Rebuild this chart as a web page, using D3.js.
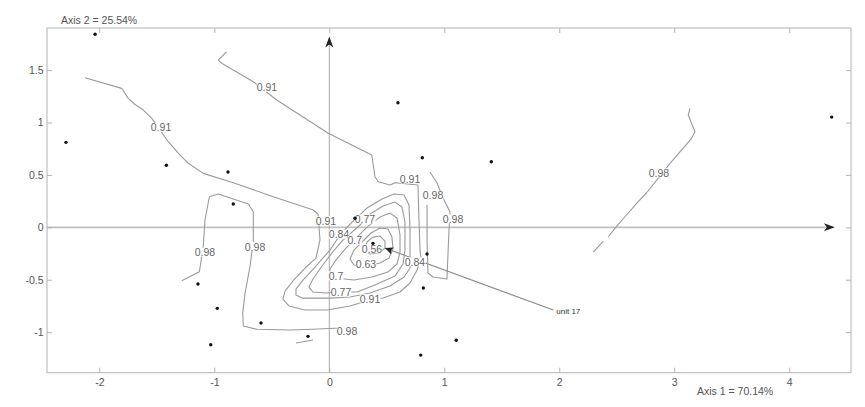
<!DOCTYPE html>
<html><head><meta charset="utf-8">
<script src="https://cdn.jsdelivr.net/npm/d3@7"></script>
<style>
body{margin:0;background:#fff}
text{font-family:"Liberation Sans",Arial,Helvetica,sans-serif}
</style>
</head><body>
<svg id="chart" width="865" height="407"></svg>
<script>
// Axis setup
const xDomain = [-2.455, 4.537];
const yDomain = [-1.387, 1.902];
const xTicks = [-2, -1, 0, 1, 2, 3, 4];
const xTickLabels = ["-2", "-1", "0", "1", "2", "3", "4"];
const yTicks = [-1, -0.5, 0, 0.5, 1, 1.5];
const yTickLabels = ["-1", "-0.5", "0", "0.5", "1", "1.5"];
const axis1Label = "Axis 1 = 70.14%";
const axis2Label = "Axis 2 = 25.54%";
const axisArrowTip = [4.397, 1.821];

// Sampling units (ordination scores)
const unitsX = [-2.037, -2.29, -1.417, -0.881, -0.835, -1.142, -0.974, -1.031, -0.594, 0.597,
                0.809, 1.409, 4.369, 0.223, 0.38, 0.85, 0.818, 1.104, 0.795, -0.185];
const unitsY = [1.842, 0.811, 0.592, 0.528, 0.222, -0.541, -0.773, -1.12, -0.913, 1.189,
                0.664, 0.626, 1.052, 0.086, -0.153, -0.255, -0.579, -1.078, -1.219, -1.04];

// Highlighted unit
const unitName = "unit 17";
const unitArrowFrom = [1.948, -0.789];
const unitArrowTo = [0.484, -0.198];

// Isolines of the fitted surface
const level091 = [[-0.892,1.676],[-0.965,1.596],[-0.936,1.565],[-0.661,1.389],[-0.457,1.215],[-0.255,1.072],
  [-0.009,0.897],[0.369,0.690],[0.397,0.483],[0.426,0.435],[0.528,0.404],[0.571,0.426],[0.771,0.404],
  [0.780,0.070],[0.789,-0.217],[0.797,-0.293],[0.763,-0.407],[0.702,-0.531],[0.615,-0.617],[0.467,-0.675],
  [0.267,-0.722],[0.180,-0.751],[-0.020,-0.789],[-0.211,-0.789],[-0.350,-0.751],[-0.403,-0.684],
  [-0.385,-0.608],[-0.316,-0.512],[-0.211,-0.388],[-0.116,-0.293],[-0.081,-0.121],[-0.098,0.127],
  [-0.139,0.165],[-0.487,0.292],[-0.835,0.426],[-1.096,0.515],[-1.226,0.611],[-1.298,0.690],
  [-1.400,0.817],[-1.544,1.040],[-1.617,1.119],[-1.690,1.172],[-1.748,1.231],[-1.805,1.326],[-2.124,1.427]];
const level084 = [[0.702,-0.331],[0.702,-0.217],[0.702,-0.026],[0.693,0.213],[0.650,0.308],[0.563,0.318],
  [0.458,0.270],[0.328,0.184],[0.206,0.060],[0.093,-0.073],[0.006,-0.217],[-0.116,-0.369],[-0.229,-0.503],
  [-0.290,-0.589],[-0.290,-0.646],[-0.237,-0.675],[0.006,-0.675],[0.180,-0.665],[0.354,-0.627],
  [0.528,-0.560],[0.650,-0.474],[0.702,-0.388]];
const level077 = [[0.267,0.022],[0.354,0.127],[0.467,0.203],[0.571,0.241],[0.632,0.194],[0.658,0.051],
  [0.658,-0.217],[0.641,-0.350],[0.571,-0.465],[0.397,-0.551],[0.241,-0.617],[0.102,-0.617],[-0.037,-0.627],
  [-0.142,-0.617],[-0.177,-0.570],[-0.142,-0.493],[-0.063,-0.369],[0.023,-0.245],[0.110,-0.131],[0.197,-0.045]];
const level070 = [[0.250,-0.083],[0.337,0.012],[0.441,0.098],[0.528,0.136],[0.589,0.089],[0.615,-0.073],
  [0.615,-0.236],[0.589,-0.350],[0.510,-0.427],[0.371,-0.474],[0.215,-0.503],[0.058,-0.484],[0.006,-0.455],
  [0.006,-0.398],[0.058,-0.312],[0.145,-0.198]];
const level063 = [[0.215,-0.217],[0.284,-0.140],[0.363,-0.054],[0.441,-0.007],[0.510,-0.016],[0.545,-0.093],
  [0.554,-0.207],[0.519,-0.293],[0.441,-0.341],[0.319,-0.369],[0.215,-0.360],[0.180,-0.302]];
const level056 = [[0.310,-0.217],[0.328,-0.140],[0.380,-0.093],[0.441,-0.083],[0.484,-0.131],[0.484,-0.198],
  [0.432,-0.245],[0.354,-0.255]];
const level098West = [[-1.283,-0.510],[-1.130,-0.424],[-1.096,-0.185],[-1.081,0.070],[-1.043,0.292],
  [-0.965,0.318],[-0.704,0.222],[-0.661,0.149],[-0.661,-0.137],[-0.690,-0.376],[-0.733,-0.630],
  [-0.753,-0.818],[-0.748,-0.942],[-0.629,-0.973],[-0.342,-0.980],[-0.142,-0.973],[0.093,-0.961]];
const level098South = [[-0.290,-1.104],[-0.142,-1.075]];
const level098Mid = [[0.876,0.528],[0.937,0.423],[0.989,0.280],[1.050,0.146],[1.041,-0.026],[1.032,-0.264],
  [1.023,-0.493],[0.902,-0.474],[0.858,-0.436],[0.850,-0.121],[0.850,0.213]];
const level098East = [[3.137,1.135],[3.122,1.072],[3.180,0.912],[3.151,0.849],[2.963,0.611],[2.760,0.330],
  [2.673,0.229],[2.571,0.101],[2.484,-0.010],[2.426,-0.090]];
const level098EastTail = [[2.383,-0.131],[2.296,-0.236]];

const openIsolines = [level091, level098West, level098South, level098Mid, level098East, level098EastTail];
const closedIsolines = [level084, level077, level070, level063, level056];

// Isoline labels: [text, x, y]
const isolineLabels = [
  ["0.91",-0.542,1.334],["0.91",-1.463,0.952],["0.91",0.702,0.461],["0.91",-0.029,0.060],["0.91",0.354,-0.684],
  ["0.98",0.902,0.303],["0.98",1.076,0.079],["0.98",2.867,0.518],["0.98",-1.081,-0.239],["0.98",-0.646,-0.185],
  ["0.98",0.154,-0.990],
  ["0.84",0.745,-0.331],["0.77",0.310,0.079],["0.77",0.102,-0.617],["0.63",0.319,-0.350],
  ["0.7",0.058,-0.465],["0.84",0.085,-0.068],["0.7",0.222,-0.126],["0.56",0.371,-0.207]
];

const svg = d3.select("#chart");
const plotLeft = 47, plotRight = 851, plotTop = 28, plotBottom = 372.7;
const x = d3.scaleLinear().domain(xDomain).range([plotLeft, plotRight]);
const y = d3.scaleLinear().domain(yDomain).range([plotBottom, plotTop]);

const frameColor = "#b4b4b4", tickText = "#555";

// Origin axes
svg.append("line").attr("x1", plotLeft).attr("x2", x(axisArrowTip[0]) - 6)
  .attr("y1", y(0)).attr("y2", y(0)).attr("stroke", "#c0c0c0").attr("stroke-width", 1.6);
svg.append("line").attr("x1", x(0)).attr("x2", x(0))
  .attr("y1", plotBottom).attr("y2", y(axisArrowTip[1]) + 6).attr("stroke", "#a8a8a8").attr("stroke-width", 1);

function arrowHead(tx, ty, dx, dy, len, hw, notch) {
  const n = Math.hypot(dx, dy), ux = dx / n, uy = dy / n, px = -uy, py = ux;
  const bx = tx - ux * len, by = ty - uy * len;
  const nx = tx - ux * (len - notch), ny = ty - uy * (len - notch);
  return `M${tx},${ty}L${bx + px * hw},${by + py * hw}L${nx},${ny}L${bx - px * hw},${by - py * hw}Z`;
}
svg.append("path").attr("d", arrowHead(x(axisArrowTip[0]), y(0), 1, 0, 11, 4, 3)).attr("fill", "#222");
svg.append("path").attr("d", arrowHead(x(0), y(axisArrowTip[1]), 0, -1, 11, 4, 3)).attr("fill", "#222");

// Isolines
const line = d3.line().x(d => x(d[0])).y(d => y(d[1]));
const lineClosed = d3.line().x(d => x(d[0])).y(d => y(d[1])).curve(d3.curveLinearClosed);
const iso = svg.append("g").attr("fill", "none").attr("stroke", "#9a9a9a").attr("stroke-width", 1.1)
  .attr("stroke-linejoin", "round");
openIsolines.forEach(c => iso.append("path").attr("d", line(c)));
closedIsolines.forEach(c => iso.append("path").attr("d", lineClosed(c)));

// Highlighted unit arrow
svg.append("line").attr("x1", x(unitArrowFrom[0])).attr("y1", y(unitArrowFrom[1]))
  .attr("x2", x(unitArrowTo[0])).attr("y2", y(unitArrowTo[1]))
  .attr("stroke", "#8a8a8a").attr("stroke-width", 1.1);

// Isoline labels with a white backing so the line breaks under the text
const lab = svg.append("g");
isolineLabels.forEach(([t, lx, ly]) => {
  const g = lab.append("g");
  const r = g.append("rect").attr("fill", "#fff");
  const tx = g.append("text").attr("x", x(lx)).attr("y", y(ly)).attr("text-anchor", "middle")
    .attr("dy", "0.36em").attr("font-size", 10.5).attr("fill", "#666").text(t);
  const b = tx.node().getBBox();
  r.attr("x", b.x).attr("y", b.y + 1.5).attr("width", b.width).attr("height", b.height - 3);
});

svg.append("path").attr("d", arrowHead(x(unitArrowTo[0]), y(unitArrowTo[1]),
  x(unitArrowTo[0]) - x(unitArrowFrom[0]), y(unitArrowTo[1]) - y(unitArrowFrom[1]), 8, 3.6, 1.5))
  .attr("fill", "#222");
svg.append("text").attr("x", x(unitArrowFrom[0]) + 3).attr("y", y(unitArrowFrom[1]) + 3.5)
  .attr("font-size", 8).attr("fill", "#333").text(unitName);

// Units
svg.append("g").selectAll("circle").data(unitsX).join("circle")
  .attr("cx", d => x(d)).attr("cy", (d, i) => y(unitsY[i])).attr("r", 1.7).attr("fill", "#111");

// Frame and ticks
svg.append("rect").attr("x", plotLeft).attr("y", plotTop)
  .attr("width", plotRight - plotLeft).attr("height", plotBottom - plotTop)
  .attr("fill", "none").attr("stroke", frameColor).attr("stroke-width", 1);

function styleAxis(g) {
  g.select(".domain").remove();
  g.selectAll(".tick line").attr("stroke", frameColor);
  g.selectAll(".tick text").attr("fill", tickText).attr("font-size", 10.5)
    .attr("font-family", '"Liberation Sans",Arial,sans-serif');
}
svg.append("g").attr("transform", `translate(0,${plotBottom})`)
  .call(d3.axisBottom(x).tickValues(xTicks).tickFormat((d, i) => xTickLabels[i]).tickSize(-5).tickPadding(6))
  .call(styleAxis);
svg.append("g").attr("transform", `translate(0,${plotTop})`)
  .call(d3.axisTop(x).tickValues(xTicks).tickFormat("").tickSize(-5)).call(styleAxis);
svg.append("g").attr("transform", `translate(${plotLeft},0)`)
  .call(d3.axisLeft(y).tickValues(yTicks).tickFormat((d, i) => yTickLabels[i]).tickSize(-5).tickPadding(3.5))
  .call(styleAxis);
svg.append("g").attr("transform", `translate(${plotRight},0)`)
  .call(d3.axisRight(y).tickValues(yTicks).tickFormat("").tickSize(-5)).call(styleAxis);

// Axis titles
svg.append("text").attr("x", 61).attr("y", 23.5).attr("font-size", 10.5).attr("fill", "#555").text(axis2Label);
svg.append("text").attr("x", 697).attr("y", 395).attr("font-size", 10.5).attr("fill", "#555").text(axis1Label);
</script>
</body></html>
